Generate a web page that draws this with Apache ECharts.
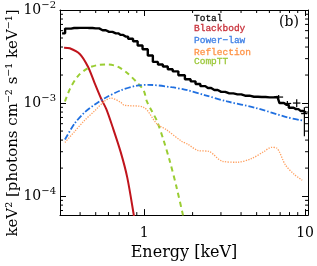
<!DOCTYPE html>
<html>
<head>
<meta charset="utf-8">
<script src="https://cdn.jsdelivr.net/npm/echarts@6/dist/echarts.min.js"></script>
<style>html,body{margin:0;padding:0;background:#fff}#c{width:317px;height:266px}</style>
</head>
<body>
<div id="c"></div>
<script>
// ---- data (energy in keV, flux in keV^2 photons cm^-2 s^-1 keV^-1) ----
const totalE = [0.309,0.337,0.367,0.40,0.43,0.457,0.50,0.552,0.606,0.667,0.715,0.767,0.823,0.884,0.939,1.017,1.091,1.176,1.262,1.354,1.452,1.558,1.708,1.879,2.01,2.164,2.31,2.49,2.73,3.01,3.38,3.80,4.24,4.81,5.38,6.02,6.74,7.13,7.65,8.19,8.78,9.41,10.1];
const totalF = [5.61e-3,6.31e-3,6.40e-3,6.42e-3,6.42e-3,6.40e-3,6.35e-3,6.06e-3,5.82e-3,5.61e-3,5.40e-3,5.18e-3,4.91e-3,4.61e-3,4.16e-3,3.79e-3,3.24e-3,2.77e-3,2.60e-3,2.47e-3,2.31e-3,2.19e-3,1.99e-3,1.80e-3,1.71e-3,1.60e-3,1.52e-3,1.45e-3,1.38e-3,1.32e-3,1.27e-3,1.24e-3,1.20e-3,1.17e-3,1.16e-3,1.15e-3,1.16e-3,1.0e-3,9.6e-4,8.9e-4,8.6e-4,8.2e-4,7.94e-4];

const bbE = [0.318,0.345,0.398,0.447,0.491,0.540,0.582,0.636,0.715,0.785,0.863,0.90];
const bbF = [3.94e-3,3.88e-3,3.37e-3,2.47e-3,1.66e-3,1.12e-3,8.6e-4,5.56e-4,2.97e-4,1.59e-4,6.2e-5,3.9e-5];

const plE = [0.322,0.370,0.425,0.491,0.565,0.715,0.904,1.065,1.48,1.87,2.37,3.28,4.89,7.83,9.58];
const plF = [4.06e-4,6.03e-4,7.9e-4,9.6e-4,1.12e-3,1.37e-3,1.54e-3,1.57e-3,1.48e-3,1.37e-3,1.22e-3,1.04e-3,8.9e-4,7.0e-4,6.5e-4];

const reflE = [0.322,0.370,0.426,0.491,0.565,0.621,0.715,0.749,0.993,1.197,1.379,1.703,1.87,2.15,2.55,3.06,3.78,4.67,5.53,6.19,6.65,7.55,8.57,9.6];
const reflF = [3.77e-4,4.95e-4,6.5e-4,8.2e-4,1.04e-3,1.13e-3,1.02e-3,9.5e-4,9.0e-4,6.0e-4,5.15e-4,3.9e-4,3.6e-4,3.1e-4,3.0e-4,2.37e-4,2.31e-4,2.54e-4,3.0e-4,3.34e-4,3.29e-4,2.16e-4,1.71e-4,1.48e-4];

const cttE = [0.322,0.346,0.388,0.447,0.514,0.592,0.682,0.785,0.904,0.993,1.04,1.116,1.197,1.316,1.446,1.587,1.744,1.82];
const cttF = [1.04e-3,1.42e-3,1.95e-3,2.37e-3,2.56e-3,2.60e-3,2.47e-3,2.10e-3,1.66e-3,1.37e-3,1.04e-3,8.2e-4,6.5e-4,4.06e-4,2.35e-4,1.26e-4,6.2e-5,4.4e-5];

// data points with error bars (high-energy end)
const ptE   = [6.85, 7.76, 8.87, 9.9];
const ptElo = [6.40, 7.35, 8.40, 9.45];
const ptEhi = [7.30, 8.20, 9.35, 10.35];
const ptF   = [1.16e-3, 9.9e-4, 1.0e-3, 7.7e-4];
const ptFlo = [1.10e-3, 9.3e-4, 9.0e-4, 4.4e-4];
const ptFhi = [1.22e-3, 1.05e-3, 1.10e-3, 9.0e-4];

const xMinorTicks = [0.4,0.5,0.6,0.7,0.8,0.9,2,3,4,5,6,7,8,9];
const yMinorTicks = [7e-5,8e-5,9e-5,2e-4,3e-4,4e-4,5e-4,6e-4,7e-4,8e-4,9e-4,2e-3,3e-3,4e-3,5e-3,6e-3,7e-3,8e-3,9e-3];
const xMajorLabels = [1, 10];

const legendNames  = ['Total','Blackbody','Power\u2212law','Reflection','CompTT'];
const legendColors = ['#111111','#c8323c','#3f80e6','#ff9448','#9cc83a'];

const X_MIN = 0.3, X_MAX = 10.43, Y_MIN = 6.25e-5, Y_MAX = 1e-2;
const SERIF = 'DejaVu Serif';

function zip(a, b){ return a.map((v,i)=>[v,b[i]]); }
function isPow10(v){ const l = Math.log10(v); return Math.abs(l-Math.round(l)) < 1e-6; }

const chart = echarts.init(document.getElementById('c'), null, {renderer:'canvas'});

const axisCommon = {
  type:'log', logBase:10,
  axisLine:{show:true, onZero:false, lineStyle:{color:'#000', width:1}},
  axisTick:{show:true, inside:true, length:6, lineStyle:{color:'#000', width:1}},
  splitLine:{show:false}, minorTick:{show:false}
};

const option = {
  animation:false,
  backgroundColor:'#fff',
  grid:{left:60, right:5, top:4, bottom:46, containLabel:false},
  xAxis:[
    Object.assign({}, axisCommon, {min:X_MIN, max:X_MAX, position:'bottom',
      name:'Energy [keV]', nameLocation:'middle', nameGap:28,
      nameTextStyle:{fontFamily:SERIF, fontSize:16, color:'#000'},
      axisLabel:{show:true, margin:11, fontFamily:SERIF, fontSize:14, color:'#000',
        formatter:v => (isPow10(v) && xMajorLabels.some(m=>Math.abs(m-v)<1e-6*m)) ? String(Math.round(v)) : ''}}),
    Object.assign({}, axisCommon, {min:X_MIN, max:X_MAX, position:'top', axisLabel:{show:false}})
  ],
  yAxis:[
    Object.assign({}, axisCommon, {min:Y_MIN, max:Y_MAX, position:'left',
      axisLabel:{show:true, margin:4, formatter:v => isPow10(v) ? '{b|10}{s|\u2212'+(-Math.round(Math.log10(v)))+'}' : '',
        rich:{b:{fontFamily:SERIF, fontSize:14, color:'#000', lineHeight:20},
              s:{fontFamily:SERIF, fontSize:10, color:'#000', lineHeight:10, verticalAlign:'top'}}}}),
    Object.assign({}, axisCommon, {min:Y_MIN, max:Y_MAX, position:'right', axisLabel:{show:false}})
  ],
  graphic:[
    {type:'text', x:13, y:123, rotation:Math.PI/2,
     style:{text:'keV\u00b2 [photons cm\u207b\u00b2 s\u207b\u00b9 keV\u207b\u00b9]', align:'center', verticalAlign:'middle',
       fontFamily:SERIF, fontSize:15, fill:'#000'}},
    {type:'text', x:289, y:22, style:{text:'(b)', align:'center', verticalAlign:'middle', fontFamily:SERIF, fontSize:14, fill:'#000'}}
  ].concat(legendNames.map((n,i)=>({type:'text', x:194, y:[18,28,40,52,61][i],
     style:{text:n, align:'left', verticalAlign:'middle', fontFamily:'Liberation Mono', fontSize:9.5, fill:legendColors[i],
       stroke:legendColors[i], lineWidth:0.3}}))),
  series:[
    {name:'Blackbody', type:'line', data:zip(bbE,bbF), showSymbol:false, smooth:0.3, clip:true,
     lineStyle:{color:'#c0141c', width:2}, z:3},
    {name:'CompTT', type:'line', data:zip(cttE,cttF), showSymbol:false, smooth:0.3, clip:true,
     lineStyle:{color:'#9acd32', width:2, type:[5,4]}, z:3},
    {name:'Power-law', type:'line', data:zip(plE,plF), showSymbol:false, smooth:0.3, clip:true,
     lineStyle:{color:'#2070e0', width:1.8, type:[6,2,1.5,2]}, z:3},
    {name:'Reflection', type:'line', data:zip(reflE,reflF), showSymbol:false, smooth:0.3, clip:true,
     lineStyle:{color:'#ffa060', width:1.3, type:[1.3,1.3]}, z:3},
    {name:'Total', type:'line', data:zip(totalE,totalF), showSymbol:false, step:'middle', clip:true,
     lineStyle:{color:'#000', width:2.4}, z:4},
    {name:'Data', type:'custom', clip:true, z:5,
     data:ptE.map((e,i)=>[e, ptF[i], ptElo[i], ptEhi[i], ptFlo[i], ptFhi[i]]),
     renderItem:(params, api)=>{
       const c = api.coord([api.value(0), api.value(1)]);
       const l = api.coord([api.value(2), api.value(1)]);
       const r = api.coord([api.value(3), api.value(1)]);
       const lo = api.coord([api.value(0), api.value(4)]);
       const hi = api.coord([api.value(0), api.value(5)]);
       const st = {stroke:'#000', lineWidth:1.2};
       return {type:'group', children:[
         {type:'line', shape:{x1:l[0], y1:c[1], x2:r[0], y2:c[1]}, style:st},
         {type:'line', shape:{x1:c[0], y1:hi[1], x2:c[0], y2:lo[1]}, style:st}
       ]};
     }},
    {name:'xMinor', type:'custom', z:6, silent:true,
     data:xMinorTicks.map(v=>[v, 1e-3]),
     renderItem:(params, api)=>{
       const cs = params.coordSys;
       const x = api.coord([api.value(0), 1e-3])[0];
       const st = {stroke:'#000', lineWidth:1};
       return {type:'group', children:[
         {type:'line', shape:{x1:x, y1:cs.y+cs.height, x2:x, y2:cs.y+cs.height-3}, style:st},
         {type:'line', shape:{x1:x, y1:cs.y, x2:x, y2:cs.y+3}, style:st}
       ]};
     }},
    {name:'yMinor', type:'custom', z:6, silent:true,
     data:yMinorTicks.map(v=>[1, v]),
     renderItem:(params, api)=>{
       const cs = params.coordSys;
       const y = api.coord([1, api.value(1)])[1];
       const st = {stroke:'#000', lineWidth:1};
       return {type:'group', children:[
         {type:'line', shape:{x1:cs.x, y1:y, x2:cs.x+3, y2:y}, style:st},
         {type:'line', shape:{x1:cs.x+cs.width, y1:y, x2:cs.x+cs.width-3, y2:y}, style:st}
       ]};
     }}
  ]
};
chart.setOption(option);
</script>
</body>
</html>
